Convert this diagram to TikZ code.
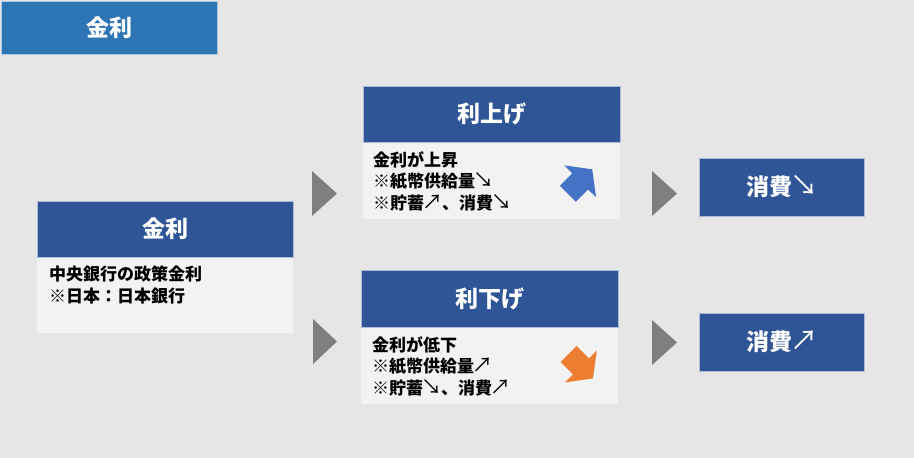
\documentclass[tikz,border=0pt]{standalone}
\usepackage{fontspec}
\usepackage{graphicx}
\setmainfont{Noto Sans CJK JP}
\newcommand{\arrdn}{\makebox[1.05em][c]{\scalebox{1.2}{\mdseries ↘}}}
\newcommand{\arrup}{\makebox[1.05em][c]{\scalebox{1.2}{\mdseries ↗}}}
\definecolor{bgc}{HTML}{E7E6E6}
\definecolor{titlec}{HTML}{2E75B6}
\definecolor{headc}{HTML}{2F5597}
\definecolor{bodyc}{HTML}{F2F2F2}
\definecolor{tric}{HTML}{7F7F7F}
\definecolor{upc}{HTML}{4472C4}
\definecolor{downc}{HTML}{ED7D31}
\begin{document}
\begin{tikzpicture}[x=1pt,y=-1pt,
  head/.style={rectangle,fill=headc,draw=headc!40!white,line width=0.4pt,inner sep=0pt,
    text=white,font=\fontsize{23}{27}\selectfont\bfseries},
  body/.style={rectangle,fill=bodyc,inner sep=0pt},
  bodytext/.style={anchor=base west,align=left,inner sep=0pt,text=black,
    font=\fontsize{17}{21.5}\selectfont\bfseries},
  chevron/.style={fill=tric}
]
\useasboundingbox (0,0) rectangle (914,458);
\fill[bgc] (0,0) rectangle (914,458);
% title
\node[head,fill=titlec,draw=titlec!40!white,minimum width=216pt,minimum height=53pt] (title) at (109,27.5) {金利};
% left box
\node[body,minimum width=256pt,minimum height=76pt] (lbody) at (165,295) {};
\node[head,minimum width=256pt,minimum height=56pt] (lhead) at (165,229) {金利};
\node[bodytext] (ltext) at (49,302) {中央銀行の政策金利\\※日本：日本銀行};
% upper middle
\node[body,minimum width=257pt,minimum height=77pt] (ubody) at (491.5,180.5) {};
\node[head,minimum width=257pt,minimum height=56pt] (uhead) at (491.5,114) {利上げ};
\node[bodytext] (utext) at (373,209) {金利が上昇\\※紙幣供給量\arrdn\\※貯蓄\arrup、消費\arrdn};
% lower middle
\node[body,minimum width=257pt,minimum height=77pt] (dbody) at (489.5,365.5) {};
\node[head,minimum width=257pt,minimum height=57pt] (dhead) at (489.5,298.5) {利下げ};
\node[bodytext] (dtext) at (372,394) {金利が低下\\※紙幣供給量\arrup\\※貯蓄\arrdn、消費\arrup};
% right boxes
\node[head,minimum width=165pt,minimum height=58pt] (rup) at (781.5,187) {消費\arrdn};
\node[head,minimum width=165pt,minimum height=58pt] (rdown) at (781.5,342) {消費\arrup};
% chevrons
\fill[chevron] (312,171) -- (337,193.5) -- (312,216) -- cycle;
\fill[chevron] (313,319) -- (337,341.5) -- (313,364) -- cycle;
\fill[chevron] (652,171) -- (677,193.5) -- (652,216) -- cycle;
\fill[chevron] (652,320) -- (677,342.5) -- (652,365) -- cycle;
% block arrows
\fill[upc] (559.9,185.7) -- (572.2,173.4) -- (564.2,165.4) -- (592.2,169.3) -- (596.1,197.3) -- (588.1,189.4) -- (575.8,201.7) -- cycle;
\fill[downc] (576.6,346.1) -- (588.9,358.4) -- (596.9,350.4) -- (592.9,378.4) -- (564.9,382.4) -- (572.9,374.4) -- (560.6,362.1) -- cycle;
\end{tikzpicture}
\end{document}
